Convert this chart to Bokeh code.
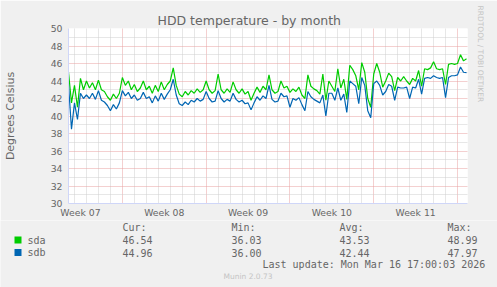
from bokeh.plotting import figure
from bokeh.layouts import column
from bokeh.models import Range1d, FixedTicker, Title
from bokeh.core.properties import value
from bokeh.embed import file_html
from bokeh.resources import INLINE

# ---- data ----
sda = [45.0, 41.5, 43.5, 41.0, 44.3, 43.0, 44.0, 43.2, 43.8, 43.0,
       44.1, 43.0, 42.8, 42.2, 41.8, 42.5, 42.0, 42.6, 44.4, 43.5,
       44.0, 43.0, 43.6, 42.8, 43.2, 44.0, 43.0, 43.4, 42.6, 43.5,
       42.8, 43.9, 43.0, 43.6, 44.0, 45.5, 43.5, 42.5, 42.2, 42.8,
       42.4, 42.9, 42.6, 43.1, 42.7, 43.0, 44.0, 43.0, 42.6, 42.9,
       44.8, 43.0, 42.6, 43.1, 42.7, 43.9, 43.0, 42.6, 43.1, 42.5,
       42.8, 41.8, 42.6, 43.3, 42.7, 43.4, 43.0, 44.7, 43.0, 42.6,
       42.8, 44.0, 43.2, 43.4, 42.7, 43.1, 42.8, 43.3, 42.4, 42.0,
       44.7, 43.4, 43.1, 42.9, 42.5, 44.8, 41.8, 44.0, 43.4, 42.8,
       45.4, 43.2, 44.2, 41.9, 45.8, 45.3, 44.6, 43.0, 46.1, 45.0,
       42.0, 41.0, 44.8, 46.0, 45.0, 43.3, 44.0, 44.9, 44.5, 42.9,
       44.4, 44.0, 44.5, 44.0, 43.6, 44.3, 44.0, 45.2, 43.4, 45.4,
       45.3, 45.5, 46.2, 45.4, 45.3, 45.4, 43.6, 45.9, 46.0, 45.9,
       46.0, 47.0, 46.3, 46.54]
sdb = [43.6, 38.5, 41.5, 39.6, 42.6, 42.0, 42.4, 42.0, 42.6, 41.9,
       42.9, 41.8, 41.6, 41.2, 40.6, 41.3, 40.8, 41.5, 42.9, 42.3,
       42.7, 42.0, 42.4, 41.8, 42.0, 42.7, 42.0, 42.2, 41.5, 42.3,
       41.7, 42.6, 41.9, 42.5, 43.0, 44.2, 42.4, 41.4, 41.2, 41.6,
       41.3, 41.8, 41.6, 42.0, 41.7, 41.9, 42.8, 42.0, 41.6, 41.7,
       42.9, 42.0, 41.6, 41.9, 41.7, 42.6, 41.9, 41.6, 41.8, 41.4,
       41.5, 40.7, 41.5, 42.2, 41.8, 42.3, 42.0, 43.5, 41.9, 41.6,
       41.7, 42.6, 42.2, 42.3, 41.0, 42.0, 41.8, 42.1, 41.3, 40.6,
       42.8, 42.2, 41.9, 41.7, 41.5, 42.4, 40.0, 42.6, 42.6, 41.8,
       43.2, 41.8, 42.5, 40.4, 44.0, 43.7, 43.4, 41.4, 44.4, 43.5,
       40.6, 39.8, 43.7, 44.0, 43.5, 42.4, 42.8, 43.6, 43.4, 41.8,
       43.3, 43.2, 43.2, 43.3, 42.0, 43.3, 43.2, 44.2, 42.5, 44.3,
       44.4, 44.3, 44.6, 44.4, 44.3, 44.4, 42.1, 44.4, 44.6, 44.6,
       44.7, 45.6, 45.0, 44.96]
sample_step_days = 0.25          # one sample every 6 hours, first sample = left edge
week_label_days = [1, 8, 15, 22, 29]
week_labels = ["Week 07", "Week 08", "Week 09", "Week 10", "Week 11"]
week_start_days = [4.5, 11.5, 18.5, 25.5, 32.5]
y_major = [30, 32, 34, 36, 38, 40, 42, 44, 46, 48, 50]
y_minor = [31, 33, 35, 37, 39, 41, 43, 45, 47, 49]

legend_names = ["sda", "sdb"]
legend_colors = ["#00CC00", "#0066B3"]
stat_headers = ["Cur:", "Min:", "Avg:", "Max:"]
stats_sda = ["46.54", "36.03", "43.53", "48.99"]
stats_sdb = ["44.96", "36.00", "42.44", "47.97"]
title_text = "HDD temperature - by month"
y_label = "Degrees Celsius"
last_update = "Last update: Mon Mar 16 17:00:03 2026"
footer = "Munin 2.0.73"
watermark = "RRDTOOL / TOBI OETIKER"

days = [i * sample_step_days for i in range(len(sda))]
day_lines = [k + 0.5 for k in range(33) if (k + 0.5) not in week_start_days]

W = 497
H_TOP, H_BOT = 220, 67
FONT = "DejaVu Sans"
MONO = "DejaVu Sans Mono"
TXT = "#666666"
AXIS = "#CFD6F8"
BG = "#F0F0F0"

# ---------------- graph ----------------
p = figure(width=W, height=H_TOP, output_backend="svg", toolbar_location=None,
           title_location=None,
           x_range=Range1d(0, 400 / 12), y_range=Range1d(30, 50),
           min_border_left=67, min_border_right=30, min_border_top=28,
           min_border_bottom=H_TOP - 203)
p.background_fill_color = "#FFFFFF"
p.border_fill_color = BG
p.outline_line_color = None

p.xgrid.ticker = FixedTicker(ticks=week_start_days, minor_ticks=day_lines)
p.ygrid.ticker = FixedTicker(ticks=y_major, minor_ticks=y_minor)
for g in (p.xgrid, p.ygrid):
    g.grid_line_color = "#E8A0A0"
    g.grid_line_dash = "1 1"
    g.grid_line_width = 1
    g.minor_grid_line_color = "#CFCFCF"
    g.minor_grid_line_dash = "1 1"
    g.minor_grid_line_width = 1

p.xaxis.ticker = FixedTicker(ticks=week_label_days, minor_ticks=[])
p.xaxis.major_label_overrides = {d: l for d, l in zip(week_label_days, week_labels)}
p.yaxis.ticker = FixedTicker(ticks=y_major, minor_ticks=[])
for ax in (p.xaxis[0], p.yaxis[0]):
    ax.axis_line_color = AXIS
    ax.major_tick_line_color = None
    ax.minor_tick_line_color = None
    ax.major_tick_out = 0
    ax.major_tick_in = 0
    ax.major_label_text_color = TXT
    ax.major_label_text_font = FONT
    ax.major_label_text_font_size = "9.3px"
p.xaxis.major_label_standoff = 3
p.yaxis.major_label_standoff = 6
p.yaxis.axis_label = y_label
p.yaxis.axis_label_text_font = FONT
p.yaxis.axis_label_text_font_style = "normal"
p.yaxis.axis_label_text_font_size = "11px"
p.yaxis.axis_label_text_color = TXT
p.yaxis.axis_label_standoff = 31

p.line(days, sda, line_color=legend_colors[0], line_width=1.2)
p.line(days, sdb, line_color=legend_colors[1], line_width=1.2)

p.add_layout(Title(text=title_text, align="left", offset=89, standoff=2,
                   text_font=FONT, text_font_size="12.5px", text_font_style="normal",
                   text_color=TXT), "above")
p.add_layout(Title(text=watermark, align="left", offset=-23, standoff=13,
                   vertical_align="top", text_baseline="bottom",
                   text_font=FONT, text_font_size="7.5px", text_font_style="normal",
                   text_color="#C4C4C4"), "right")

# ---------------- legend strip (pixel coordinates, y down) ----------------
q = figure(width=W, height=H_BOT, output_backend="svg", toolbar_location=None,
           title_location=None, x_axis_type=None, y_axis_type=None,
           x_range=Range1d(0, W), y_range=Range1d(H_TOP + H_BOT, H_TOP),
           min_border=0, min_border_left=0, min_border_right=0,
           min_border_top=0, min_border_bottom=0)
for fig in (p, q):
    try:
        fig.frame_align = False
    except AttributeError:
        pass
q.background_fill_color = BG
q.border_fill_color = BG
q.outline_line_color = None
q.xgrid.visible = False
q.ygrid.visible = False

cols_x = [122, 231, 339, 447]
row_y = [239.5, 252]
header_y = 226.5
mono = dict(text_font=value(MONO), text_font_size="10px", text_color=TXT,
            text_baseline="middle", text_align="left")

q.text(x=cols_x, y=[header_y] * 4, text=stat_headers, **mono)
for name, col, ry, vals in zip(legend_names, legend_colors, row_y, [stats_sda, stats_sdb]):
    q.quad(left=[14], right=[21], top=[ry - 3.5], bottom=[ry + 3.5],
           fill_color=col, line_color=None)
    q.text(x=[27], y=[ry], text=[name], **mono)
    q.text(x=cols_x, y=[ry] * 4, text=vals, **mono)
q.text(x=[262], y=[263.5], text=[last_update], **mono)
q.text(x=[223], y=[276], text=[footer], text_font=value(FONT), text_font_size="7.5px",
       text_color="#C4C4C4", text_baseline="middle", text_align="left")

layout = column(p, q, spacing=0)
open("out.html", "w").write(file_html(layout, INLINE))
